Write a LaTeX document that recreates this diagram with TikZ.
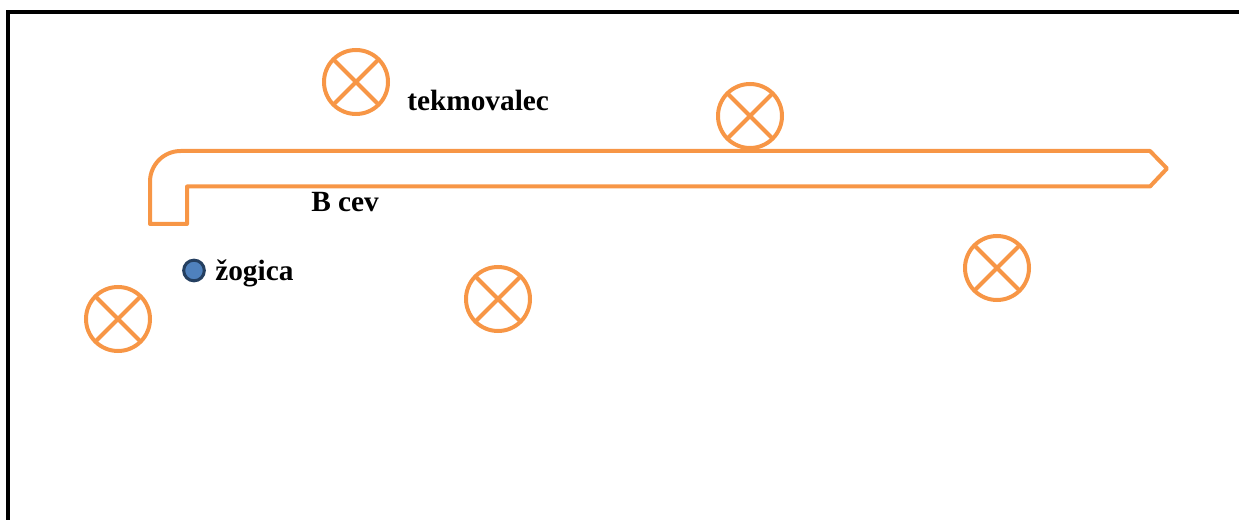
\documentclass[tikz,border=0pt]{standalone}
\usepackage{fontspec}
\setmainfont{Liberation Serif}
\definecolor{orng}{HTML}{F79646}
\definecolor{ballfill}{HTML}{4F81BD}
\definecolor{balldraw}{HTML}{243F60}
\begin{document}
\begin{tikzpicture}[x=0.75pt,y=-0.75pt,
  playermark/.style={circle, draw=orng, line width=3pt, minimum size=48pt, inner sep=0pt,
    path picture={\draw[orng, line width=3pt]
      (path picture bounding box.north west) -- (path picture bounding box.south east)
      (path picture bounding box.north east) -- (path picture bounding box.south west);}},
  ballmark/.style={circle, draw=balldraw, fill=ballfill, line width=2.3pt, minimum size=15.5pt, inner sep=0pt},
  lbl/.style={font=\fontsize{22}{25}\selectfont\bfseries, inner sep=0pt, anchor=base west},
  pipe/.style={draw=orng, line width=3pt, line join=round}]
\useasboundingbox (0,0) rectangle (1239,520);
% frame
\draw[line width=2.3pt] (8,520) -- (8,12) -- (1239,12);
% pipe
\draw[pipe] (150,224) [rounded corners=23pt] -- (150,151) [sharp corners] -- (1150,151) -- (1167,168.5) -- (1150,186.5) -- (187,186.5) -- (187,224) -- cycle;
% players
\node[playermark] (p1) at (356,82) {};
\node[playermark] (p2) at (750,116) {};
\node[playermark] (p3) at (498,299) {};
\node[playermark] (p4) at (997,268) {};
\node[playermark] (p5) at (118,319) {};
% ball
\node[ballmark] (ball) at (194,270.5) {};
% labels
\node[lbl] (t1) at (407,111) {tekmovalec};
\node[lbl] (t2) at (311,212) {B cev};
\node[lbl] (t3) at (215,281) {žogica};
\end{tikzpicture}
\end{document}
